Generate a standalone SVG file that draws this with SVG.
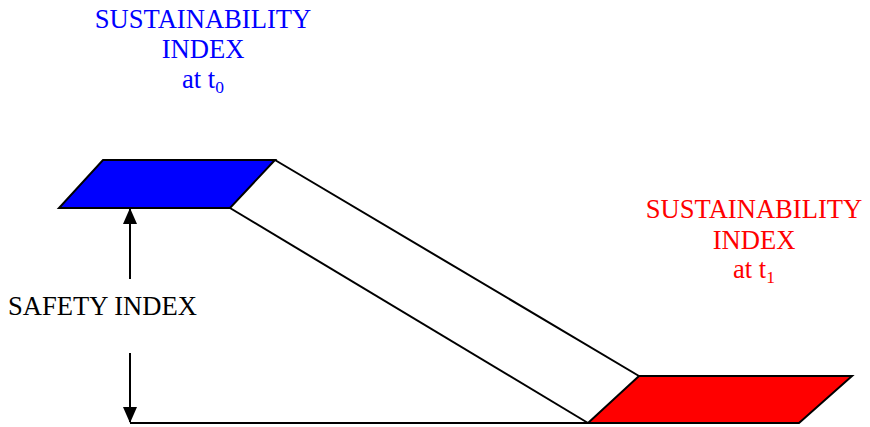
<svg xmlns="http://www.w3.org/2000/svg" width="870" height="427" viewBox="0 0 870 427">
<style>
.ln{stroke:#000;stroke-width:2;fill:none}
.sh{stroke:#000;stroke-width:2;stroke-linejoin:miter}
.t{font-family:"Liberation Serif","Times New Roman",serif;font-size:26.6px;text-anchor:middle}
.sub{font-size:17.5px}
</style>
<defs>
<marker id="ah" viewBox="0 0 16 14" refX="15" refY="7" markerWidth="16" markerHeight="14" markerUnits="userSpaceOnUse" orient="auto">
<path d="M0,0 L16,7 L0,14 Z" fill="#000"/>
</marker>
</defs>
<rect width="870" height="427" fill="#fff"/>
<g id="connectors">
<line class="ln" x1="275" y1="160" x2="639" y2="376"/>
<line class="ln" x1="230" y1="208" x2="588" y2="423"/>
<line class="ln" x1="130" y1="423" x2="588" y2="423"/>
<line class="ln" x1="130" y1="279" x2="130" y2="209" marker-end="url(#ah)"/>
<line class="ln" x1="130" y1="353" x2="130" y2="422" marker-end="url(#ah)"/>
</g>
<g id="t0">
<polygon class="sh" fill="#0000ff" points="103,160 275,160 230,208 59,208"/>
<text class="t" fill="#0000ff"><tspan x="203" y="28">SUSTAINABILITY</tspan><tspan x="203" y="58">INDEX</tspan><tspan x="203" y="88">at t<tspan class="sub" dy="5">0</tspan></tspan></text>
</g>
<g id="t1">
<polygon class="sh" fill="#ff0000" points="639,376 852,376 799,423 588,423"/>
<text class="t" fill="#ff0000"><tspan x="754" y="218">SUSTAINABILITY</tspan><tspan x="754" y="249">INDEX</tspan><tspan x="754" y="278">at t<tspan class="sub" dy="5">1</tspan></tspan></text>
</g>
<g id="safety">
<text class="t" style="text-anchor:start" x="8" y="315" fill="#000">SAFETY INDEX</text>
</g>
</svg>
